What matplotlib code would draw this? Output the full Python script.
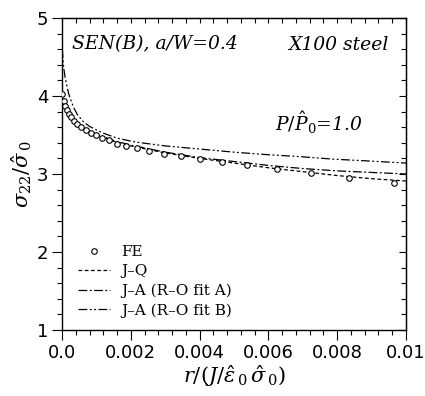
import matplotlib
matplotlib.use("Agg")
import matplotlib.pyplot as plt
from matplotlib.ticker import MultipleLocator

plt.rcParams['mathtext.fontset'] = 'dejavuserif'

# FE data points
fe_r = [0.0, 0.00006, 0.0001, 0.00014, 0.0002, 0.00027, 0.00035, 0.00045, 0.00056,
        0.0007, 0.00083, 0.001, 0.00116, 0.00136, 0.00159, 0.00186, 0.00217, 0.00254,
        0.00297, 0.00345, 0.00401, 0.00464, 0.00539, 0.00624, 0.00723, 0.00834, 0.00965]
fe_s = [4.02, 3.93, 3.87, 3.82, 3.77, 3.73, 3.68, 3.64, 3.60,
        3.56, 3.53, 3.50, 3.46, 3.43, 3.39, 3.36, 3.33, 3.29,
        3.26, 3.23, 3.19, 3.15, 3.11, 3.06, 3.01, 2.95, 2.89]

# J-Q curve
jq_r = [0.0, 0.00005, 0.0001, 0.0002, 0.0003, 0.0005, 0.0007, 0.001, 0.0015, 0.002,
        0.003, 0.004, 0.005, 0.006, 0.007, 0.008, 0.009, 0.01]
jq_s = [3.97, 3.90, 3.85, 3.77, 3.71, 3.62, 3.56, 3.50, 3.42, 3.36,
        3.27, 3.20, 3.14, 3.08, 3.03, 2.98, 2.94, 2.91]

# J-A (R-O fit A)
ja_r = [0.0, 0.00005, 0.0001, 0.0002, 0.0003, 0.0005, 0.0007, 0.001, 0.0015, 0.002,
        0.003, 0.004, 0.005, 0.006, 0.007, 0.008, 0.009, 0.01]
ja_s = [3.98, 3.91, 3.86, 3.78, 3.72, 3.63, 3.57, 3.51, 3.43, 3.37,
        3.28, 3.21, 3.16, 3.11, 3.07, 3.04, 3.02, 3.00]

# J-A (R-O fit B)
jb_r = [0.00001, 0.00003, 0.00005, 0.00009, 0.00014, 0.0002, 0.00033, 0.00045, 0.00062,
        0.0008, 0.00116, 0.0016, 0.00213, 0.003, 0.004, 0.005, 0.0059, 0.007, 0.0079, 0.009, 0.01]
jb_s = [4.60, 4.46, 4.36, 4.24, 4.13, 4.02, 3.86, 3.76, 3.67,
        3.61, 3.53, 3.46, 3.41, 3.36, 3.32, 3.28, 3.25, 3.22, 3.19, 3.165, 3.14]

fig = plt.figure(figsize=(4.25, 3.96), dpi=100)
ax = fig.add_axes([62/425, 66/396, 344/425, 312/396])

ax.plot(fe_r, fe_s, linestyle='none', marker='o', markersize=4, markerfacecolor='white',
        markeredgecolor='black', markeredgewidth=0.8, label='FE', zorder=5)
ax.plot(jq_r, jq_s, color='black', lw=0.9, dashes=(3, 2), label='J\u2013Q')
ax.plot(ja_r, ja_s, color='black', lw=0.9, dashes=(7, 2, 1.5, 2), label='J\u2013A (R\u2013O fit A)')
ax.plot(jb_r, jb_s, color='black', lw=0.9, dashes=(7, 2, 1.5, 2, 1.5, 2), label='J\u2013A (R\u2013O fit B)')

ax.set_xlim(0, 0.01)
ax.set_ylim(1, 5)
ax.xaxis.set_major_locator(MultipleLocator(0.002))
ax.xaxis.set_minor_locator(MultipleLocator(0.0004))
ax.yaxis.set_major_locator(MultipleLocator(1))
ax.yaxis.set_minor_locator(MultipleLocator(0.2))
ax.set_xticks([0, 0.002, 0.004, 0.006, 0.008, 0.01])
ax.set_xticklabels(['0.0', '0.002', '0.004', '0.006', '0.008', '0.01'])
ax.tick_params(which='major', direction='out', length=7, width=0.8, labelsize=13, pad=3)
ax.tick_params(which='minor', direction='out', length=3.5, width=0.8)
for s in ax.spines.values():
    s.set_linewidth(1.0)

secx = ax.secondary_xaxis('top')
secx.xaxis.set_major_locator(MultipleLocator(0.0004))
secx.tick_params(direction='in', length=3.5, width=0.8, labeltop=False)
secx.set_xticklabels([])
secy = ax.secondary_yaxis('right')
secy.yaxis.set_major_locator(MultipleLocator(1))
secy.yaxis.set_minor_locator(MultipleLocator(0.2))
secy.tick_params(which='major', direction='in', length=5, width=0.8, labelright=False)
secy.tick_params(which='minor', direction='in', length=3.5, width=0.8)
secy.set_yticklabels([])

ax.set_xlabel(r'$r/(J/\hat{\varepsilon}_{\,0}\,\hat{\sigma}_{\,0})$', fontsize=15, labelpad=1)
ax.set_ylabel(r'$\sigma_{22}/\hat{\sigma}_{\,0}$', fontsize=15, labelpad=2)

ax.text(0.03, 0.915, 'SEN(B), a/W=0.4', transform=ax.transAxes, fontsize=13.5,
        family='DejaVu Serif', style='italic', va='center', ha='left')
ax.text(0.95, 0.915, 'X100 steel', transform=ax.transAxes, fontsize=13.5,
        family='DejaVu Serif', style='italic', va='center', ha='right')
ax.text(0.62, 0.665, r'$P/\hat{P}_0$=1.0', transform=ax.transAxes, fontsize=13.5,
        family='DejaVu Serif', style='italic', va='center', ha='left')

leg = ax.legend(loc='lower left', bbox_to_anchor=(0.02, 0.01), frameon=False,
                prop={'family': 'DejaVu Serif', 'size': 11}, handlelength=2.1,
                handletextpad=0.7, labelspacing=0.35, borderaxespad=0.2)

fig.savefig('out.png', dpi=100)
